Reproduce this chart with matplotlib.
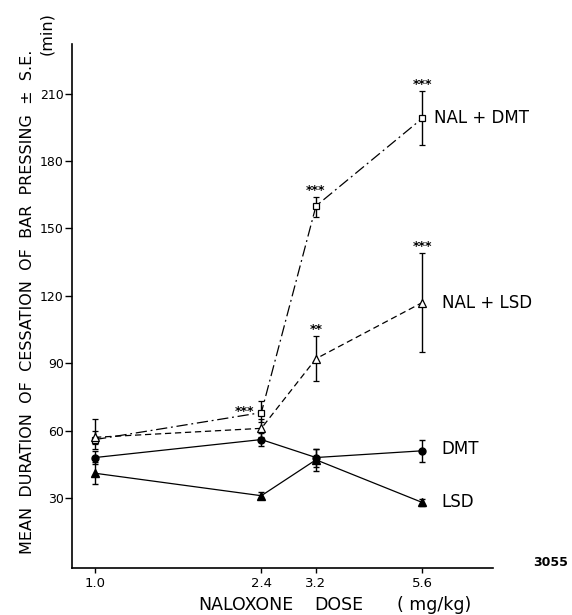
import numpy as np
import matplotlib
matplotlib.use('Agg')
import matplotlib.pyplot as plt

################################################################
#################### DATA ######################################
################################################################

doses = [1.0, 2.4, 3.2, 5.6]
dose_labels = ['1.0', '2.4', '3.2', '5.6']

nal_dmt = [56, 68, 160, 199]
nal_dmt_err_lo = [4, 4, 5, 12]
nal_dmt_err_hi = [9, 5, 4, 12]

nal_lsd = [57, 61, 92, 117]
nal_lsd_err = [3, 4, 10, 22]

dmt = [48, 56, 48, 51]
dmt_err = [3, 3, 4, 5]

lsd = [41, 31, 47, 28]
lsd_err = [5, 1.5, 5, 1.5]

# significance stars: (dose, y, text)
stars_dmt = [(2.2, 68.5, '***'), (3.2, 167, '***'), (5.6, 214, '***')]
stars_lsd = [(3.2, 105, '**'), (5.6, 142, '***')]

series_labels = ['NAL + DMT', 'NAL + LSD', 'DMT', 'LSD']
label_pos = [(5.95, 199), (6.2, 117), (6.2, 52), (6.2, 28)]

yticks = [30, 60, 90, 120, 150, 180, 210]

################################################################
#################### PLOT ######################################
################################################################

fig = plt.figure(figsize=(5.72, 6.15), dpi=100)
ax = fig.add_axes([0.126, 0.076, 0.736, 0.852])

lw = 0.9
ekw = dict(ecolor='black', elinewidth=1.0, capsize=2.5, capthick=1.0)

ax.errorbar(doses, nal_dmt, yerr=[nal_dmt_err_lo, nal_dmt_err_hi], color='black',
            lw=lw, dashes=(9, 3, 1.5, 3), marker='s', ms=5, mfc='white', mec='black', mew=0.9, **ekw)
ax.errorbar(doses, nal_lsd, yerr=nal_lsd_err, color='black', lw=lw, dashes=(5, 3),
            marker='^', ms=6, mfc='white', mec='black', mew=0.9, **ekw)
ax.errorbar(doses, dmt, yerr=dmt_err, color='black', lw=lw, marker='o', ms=5,
            mfc='black', mec='black', **ekw)
ax.errorbar(doses, lsd, yerr=lsd_err, color='black', lw=lw, marker='^', ms=5.5,
            mfc='black', mec='black', **ekw)

for x, y, s in stars_dmt + stars_lsd:
    ax.text(x, y, s, ha='center', va='center', fontsize=9, fontweight='bold')

for (x, y), s in zip(label_pos, series_labels):
    ax.text(x, y, s, ha='left', va='center', fontsize=12)

ax.set_xscale('log')
ax.set_xlim(0.886, 8.13)
ax.set_ylim(-1.3, 232)
ax.set_xticks(doses)
ax.set_xticklabels(dose_labels)
ax.minorticks_off()
ax.set_yticks(yticks)

ax.spines['top'].set_visible(False)
ax.spines['right'].set_visible(False)
ax.spines['left'].set_linewidth(1.2)
ax.spines['bottom'].set_linewidth(1.2)
ax.tick_params(axis='y', direction='out', length=5, width=1, pad=1, labelsize=9)
ax.tick_params(axis='x', direction='out', length=3.5, width=1, pad=3, labelsize=9.5)

fig.text(0.048, 0.51, 'MEAN  DURATION  OF  CESSATION  OF  BAR  PRESSING  ±  S.E.',
         rotation=90, ha='center', va='center', fontsize=11.5)
fig.text(0.082, 0.946, '(min)', rotation=90, ha='center', va='center', fontsize=11.5)

# x axis title, three words spread out as in the original
fig.text(246 / 572, 0.017, 'NALOXONE', ha='center', va='center', fontsize=12.5)
fig.text(339 / 572, 0.017, 'DOSE', ha='center', va='center', fontsize=12.5)
fig.text(434 / 572, 0.017, '( mg/kg)', ha='center', va='center', fontsize=12.5)

fig.text(0.963, 0.085, '3055', ha='center', va='center', fontsize=9, fontweight='bold')

plt.savefig('out.png', dpi=100)
